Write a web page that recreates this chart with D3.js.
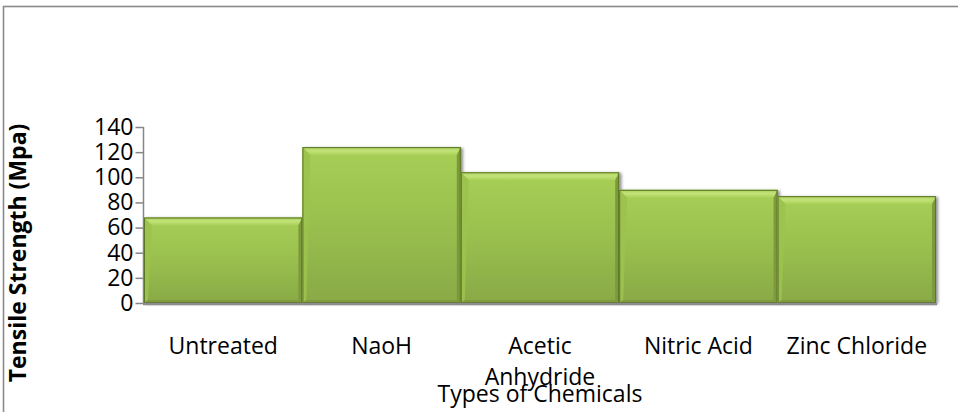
<!DOCTYPE html>
<html>
<head>
<meta charset="utf-8">
<script src="https://cdn.jsdelivr.net/npm/d3@7/dist/d3.min.js"></script>
<style>
  html, body { margin: 0; padding: 0; background: #fff; }
  svg { display: block; }
  text { font-family: "Open Sans", "Liberation Sans", sans-serif; fill: #000; }
</style>
</head>
<body>
<script>
// Tensile strength of fibres by chemical treatment
const categories = ["Untreated", "NaoH", "Acetic Anhydride", "Nitric Acid", "Zinc Chloride"];
const strength = [68, 124, 104, 90, 85];
const yTicks = [0, 20, 40, 60, 80, 100, 120, 140];
const xTitle = "Types of Chemicals";
const yTitle = "Tensile Strength (Mpa)";

const W = 958, H = 412;
const plot = { left: 144, right: 936, top: 127, bottom: 303 };

const svg = d3.select("body").append("svg").attr("width", W).attr("height", H);

// chart frame (runs off the right and bottom edges)
svg.append("rect")
  .attr("x", 3.5).attr("y", 6.5)
  .attr("width", W + 20).attr("height", H + 20)
  .attr("fill", "none").attr("stroke", "#8a8a8a").attr("stroke-width", 1.6);

const x = d3.scaleBand().domain(categories).range([plot.left, plot.right]).padding(0);
const y = d3.scaleLinear().domain([0, 140]).range([plot.bottom, plot.top]);

const defs = svg.append("defs");
const face = defs.append("linearGradient").attr("id", "face").attr("x1", 0).attr("y1", 0).attr("x2", 0).attr("y2", 1);
face.append("stop").attr("offset", "0%").attr("stop-color", "#a7cf55");
face.append("stop").attr("offset", "55%").attr("stop-color", "#98bd4e");
face.append("stop").attr("offset", "100%").attr("stop-color", "#89a945");

const topBevel = defs.append("linearGradient").attr("id", "topBevel").attr("x1", 0).attr("y1", 0).attr("x2", 0).attr("y2", 1);
topBevel.append("stop").attr("offset", "0%").attr("stop-color", "#a8ce58");
topBevel.append("stop").attr("offset", "45%").attr("stop-color", "#c3e37a");
topBevel.append("stop").attr("offset", "100%").attr("stop-color", "#a9d056");

// soft shadow filter for the bars
const shadow = defs.append("filter").attr("id", "shadow").attr("x", "-5%").attr("y", "-5%").attr("width", "115%").attr("height", "115%");
shadow.append("feGaussianBlur").attr("in", "SourceAlpha").attr("stdDeviation", 1.5).attr("result", "b");
shadow.append("feOffset").attr("in", "b").attr("dx", 2).attr("dy", 1).attr("result", "o");
shadow.append("feComponentTransfer").attr("in", "o").attr("result", "s")
  .append("feFuncA").attr("type", "linear").attr("slope", 0.45);
const merge = shadow.append("feMerge");
merge.append("feMergeNode").attr("in", "s");
merge.append("feMergeNode").attr("in", "SourceGraphic");

// axes lines
svg.append("line")
  .attr("x1", plot.left - 0.5).attr("x2", plot.left - 0.5)
  .attr("y1", y(140)).attr("y2", plot.bottom + 1)
  .attr("stroke", "#868686").attr("stroke-width", 1.5);

const yAxis = d3.axisLeft(y).tickValues(yTicks).tickSize(8).tickPadding(2);
const yg = svg.append("g").attr("transform", `translate(${plot.left - 0.5},0)`).call(yAxis);
yg.select(".domain").remove();
yg.selectAll(".tick line").attr("stroke", "#868686").attr("stroke-width", 1.5);
yg.selectAll(".tick text")
  .attr("font-family", "Open Sans, sans-serif")
  .attr("font-size", 23).attr("fill", "#000");

// bars with bevelled edges
const bev = 8, side = 4, bot = 3;
const bars = svg.append("g").attr("class", "bars");
categories.forEach((c, i) => {
  const x0 = x(c), x1 = x(c) + x.bandwidth();
  const y0 = y(strength[i]), y1 = y(0);
  const g = bars.append("g").attr("filter", "url(#shadow)");
  g.append("rect").attr("x", x0).attr("y", y0).attr("width", x1 - x0).attr("height", y1 - y0).attr("fill", "url(#face)");
  // top bevel
  g.append("polygon")
    .attr("points", [[x0, y0], [x1, y0], [x1 - side, y0 + bev], [x0 + side * 2, y0 + bev]].join(" "))
    .attr("fill", "url(#topBevel)");
  // left bevel
  g.append("polygon")
    .attr("points", [[x0, y0], [x0 + side * 2, y0 + bev], [x0 + side, y1 - bot], [x0, y1]].join(" "))
    .attr("fill", "#9cc24f").attr("opacity", 0.9);
  // right bevel
  g.append("polygon")
    .attr("points", [[x1, y0], [x1, y1], [x1 - side, y1 - bot], [x1 - side, y0 + bev]].join(" "))
    .attr("fill", "#7a9a3a");
  // bottom bevel
  g.append("polygon")
    .attr("points", [[x0, y1], [x1, y1], [x1 - side, y1 - bot], [x0 + side, y1 - bot]].join(" "))
    .attr("fill", "#7f9c3d");
  g.append("rect").attr("x", x0 + 0.5).attr("y", y0 + 0.5).attr("width", x1 - x0 - 1).attr("height", y1 - y0 - 1)
    .attr("fill", "none").attr("stroke", "#5d7428").attr("stroke-width", 1);
});

// x axis baseline
svg.append("line")
  .attr("x1", plot.left - 1).attr("x2", plot.right + 1)
  .attr("y1", plot.bottom + 1).attr("y2", plot.bottom + 1)
  .attr("stroke", "#8c8c8c").attr("stroke-width", 2.5);

// category labels (wrapped to two lines where too long)
const labels = svg.append("g");
categories.forEach((c) => {
  const cx = x(c) + x.bandwidth() / 2;
  const lines = c === "Acetic Anhydride" ? ["Acetic", "Anhydride"] : [c];
  const t = labels.append("text").attr("text-anchor", "middle").attr("font-size", 23);
  lines.forEach((ln, k) => {
    t.append("tspan").attr("x", cx).attr("y", 354 + k * 31).text(ln);
  });
});

// axis titles
svg.append("text")
  .attr("x", (plot.left + plot.right) / 2).attr("y", 402)
  .attr("text-anchor", "middle").attr("font-size", 23)
  .text(xTitle);

svg.append("text")
  .attr("transform", `translate(26,${(plot.top + plot.bottom) / 2 + 38}) rotate(-90)`)
  .attr("text-anchor", "middle").attr("font-size", 23).attr("font-weight", "bold")
  .text(yTitle);
</script>
</body>
</html>
